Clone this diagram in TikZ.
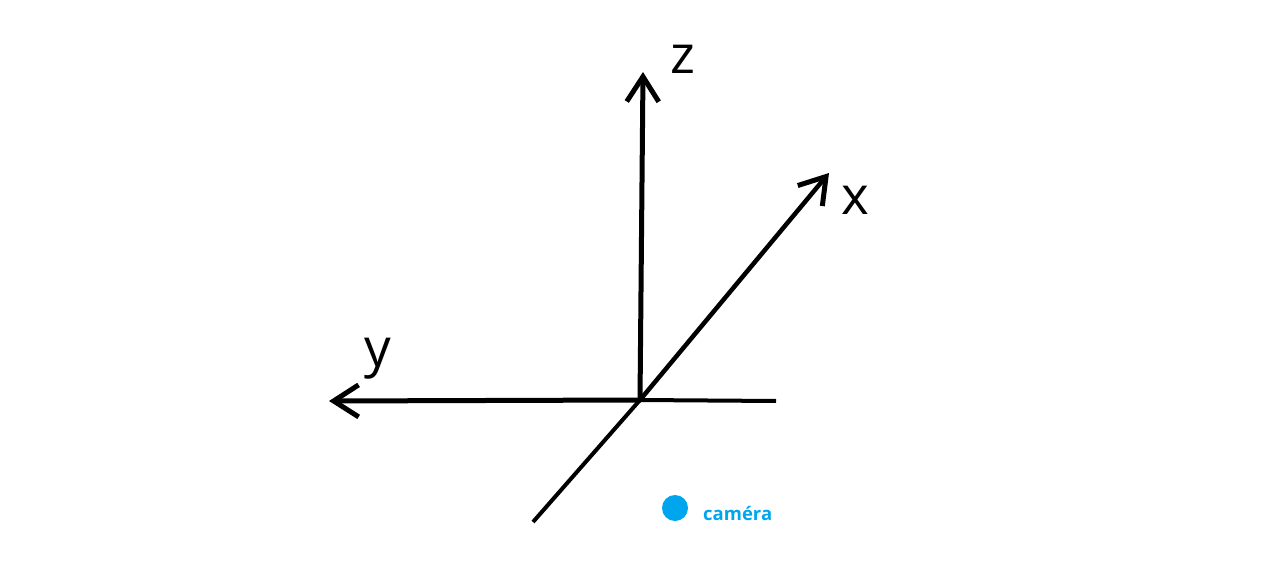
\documentclass[tikz,border=0pt]{standalone}
\usepackage{fontspec}
\setmainfont{Open Sans}
\usetikzlibrary{arrows.meta}
\definecolor{camblue}{RGB}{0,166,237}
\begin{document}
\begin{tikzpicture}[x=1pt,y=-1pt,
  axis/.style={line width=5pt,line cap=round,-{Straight Barb[length=25pt,width=32pt,line width=5pt]}},
  plainaxis/.style={line width=4pt},
  lbl/.style={inner sep=0pt,font=\fontsize{53}{53}\selectfont}]
\useasboundingbox (0,0) rectangle (1284,588);
\coordinate (O) at (640,400);
\coordinate (Z) at (643,72);
\coordinate (X) at (829,173);
\coordinate (Y) at (329,401);
\coordinate (R) at (776,401);
\coordinate (L) at (533,522);
\draw[plainaxis] (O) -- (R);
\draw[plainaxis] (O) -- (L);
\draw[axis] (O) -- (Z);
\draw[axis,line width=4.5pt] (O) -- (X);
\draw[axis] (O) -- (Y);
\node[lbl] (zl) at (683,59) {z};
\node[lbl] (xl) at (855,200) {x};
\node[lbl] (yl) at (378,359) {y};
\node[circle,fill=camblue,minimum size=26pt,inner sep=0pt] (cam) at (675,508) {};
\node[anchor=west,inner sep=0pt,text=camblue,font=\fontsize{18.5}{18.5}\selectfont\bfseries] (caml) at (703,513) {caméra};
\end{tikzpicture}
\end{document}
